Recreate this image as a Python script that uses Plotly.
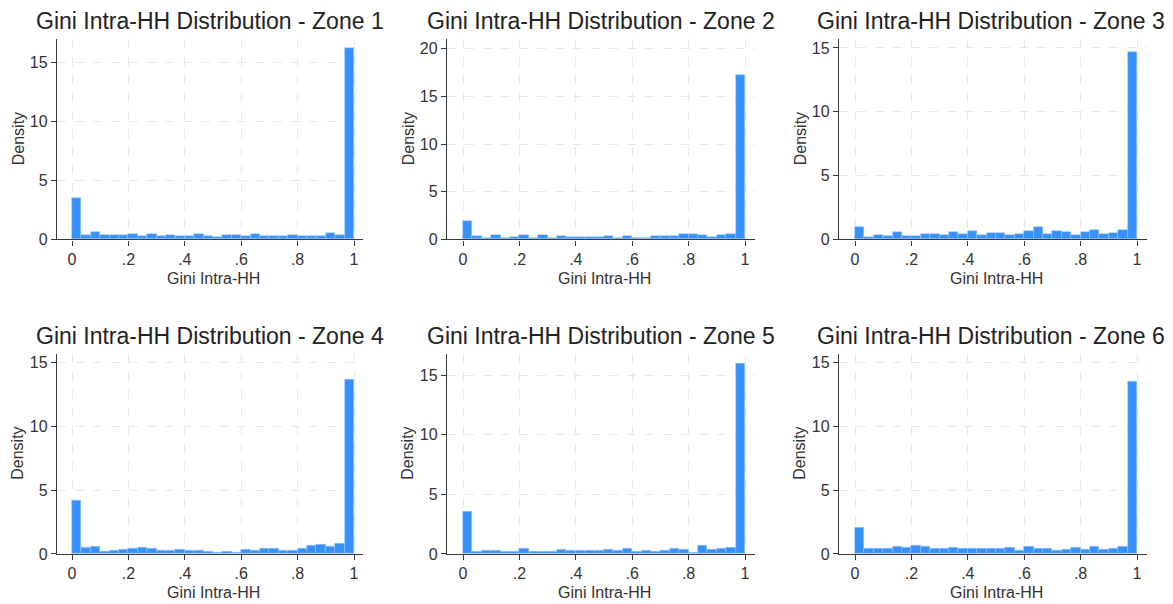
import numpy as np
import plotly.graph_objects as go

# ---- data (density per bin, 30 equal bins on [0, 1]) ----
n_bins = 30
bin_edges = np.linspace(0, 1, n_bins + 1)

zone1 = [3.48, 0.37, 0.60, 0.34, 0.34, 0.34, 0.42, 0.25, 0.42, 0.30, 0.34, 0.25, 0.25, 0.42, 0.30,
         0.22, 0.40, 0.36, 0.30, 0.42, 0.30, 0.25, 0.25, 0.34, 0.28, 0.30, 0.25, 0.50, 0.36, 16.2]
zone2 = [1.90, 0.35, 0.18, 0.45, 0.18, 0.28, 0.45, 0.18, 0.42, 0.12, 0.35, 0.22, 0.25, 0.28, 0.28,
         0.30, 0.17, 0.35, 0.17, 0.17, 0.30, 0.30, 0.35, 0.55, 0.55, 0.45, 0.28, 0.50, 0.58, 17.2]
zone3 = [1.00, 0.22, 0.36, 0.28, 0.54, 0.28, 0.24, 0.43, 0.40, 0.33, 0.58, 0.42, 0.66, 0.34, 0.50,
         0.50, 0.34, 0.38, 0.66, 0.97, 0.45, 0.63, 0.58, 0.37, 0.60, 0.71, 0.45, 0.47, 0.74, 14.7]
zone4 = [4.20, 0.50, 0.58, 0.22, 0.30, 0.36, 0.44, 0.50, 0.44, 0.24, 0.25, 0.36, 0.30, 0.30, 0.17,
         0.14, 0.22, 0.14, 0.36, 0.28, 0.44, 0.38, 0.30, 0.30, 0.38, 0.68, 0.76, 0.60, 0.84, 13.7]
zone5 = [3.55, 0.22, 0.30, 0.27, 0.22, 0.19, 0.41, 0.22, 0.22, 0.22, 0.36, 0.27, 0.30, 0.25, 0.27,
         0.36, 0.25, 0.44, 0.16, 0.25, 0.19, 0.30, 0.44, 0.33, 0.13, 0.67, 0.36, 0.44, 0.55, 16.0]
zone6 = [2.10, 0.44, 0.39, 0.44, 0.57, 0.50, 0.63, 0.55, 0.39, 0.39, 0.50, 0.42, 0.42, 0.39, 0.39,
         0.44, 0.50, 0.26, 0.57, 0.42, 0.39, 0.26, 0.34, 0.47, 0.31, 0.57, 0.34, 0.42, 0.55, 13.5]

zones = [zone1, zone2, zone3, zone4, zone5, zone6]
zone_names = ["Zone 1", "Zone 2", "Zone 3", "Zone 4", "Zone 5", "Zone 6"]
x_tickvals = [0, 0.2, 0.4, 0.6, 0.8, 1]
x_ticktext = ["0", ".2", ".4", ".6", ".8", "1"]
y_ticks = [[0, 5, 10, 15], [0, 5, 10, 15, 20], [0, 5, 10, 15],
           [0, 5, 10, 15], [0, 5, 10, 15], [0, 5, 10, 15]]
y_tops = [17.0, 21.0, 15.7, 15.7, 16.8, 15.7]

# ---- layout geometry (pixels) ----
W, H = 1173, 604
H_EFF = 594  # effective rendered paper height observed
col_px = [(57, 363), (447, 755), (839, 1147)]
row_px = [(39, 239), (353, 553)]
title_x = [34, 425, 815]
x0_px = [72, 463, 855]
x1_px = [354, 745, 1137]

def px(x):
    return x / W

def py(y):
    return 1 - y / H_EFF

BAR_COLOR = "#3891fb"
AX_COLOR = "#3a3a3a"
TXT_COLOR = "#333333"
FONT = "Liberation Sans, Arial, sans-serif"

fig = go.Figure()
centers = (bin_edges[:-1] + bin_edges[1:]) / 2
widths = np.diff(bin_edges)

annotations = []
for i, vals in enumerate(zones):
    r, c = divmod(i, 3)
    idx = "" if i == 0 else str(i + 1)
    xa, ya = "x" + idx, "y" + idx
    fig.add_trace(go.Bar(
        x=centers, y=vals, width=widths,
        marker=dict(color=BAR_COLOR, line=dict(color="rgba(150,195,255,0.9)", width=0.6)),
        xaxis=xa, yaxis=ya, showlegend=False, hoverinfo="x+y",
    ))
    left, right = col_px[c]
    top, bot = row_px[r]
    scale = (x1_px[c] - x0_px[c])
    xr = [(left - x0_px[c]) / scale, (right - x0_px[c]) / scale]
    common = dict(
        showline=True, linecolor=AX_COLOR, linewidth=1.3,
        ticks="outside", ticklen=5, tickcolor=AX_COLOR, tickwidth=1.2,
        showgrid=True, gridcolor="#e8e8e8", griddash="dash", gridwidth=1,
        zeroline=False, tickfont=dict(family=FONT, size=16, color=TXT_COLOR),
        fixedrange=True,
    )
    fig.layout["xaxis" + idx] = dict(
        domain=[px(left), px(right)], anchor=ya, range=xr,
        tickvals=x_tickvals, ticktext=x_ticktext, **common)
    fig.layout["yaxis" + idx] = dict(
        domain=[py(bot), py(top)], anchor=xa, range=[0, y_tops[i]],
        tickvals=y_ticks[i], ticktext=[str(v) for v in y_ticks[i]], **common)

    annotations.append(dict(
        text="Gini Intra-HH Distribution - " + zone_names[i],
        x=px(title_x[c]), y=py(top - 18), xref="paper", yref="paper",
        xanchor="left", yanchor="middle", showarrow=False,
        font=dict(family=FONT, size=23, color="#222222")))
    annotations.append(dict(
        text="Gini Intra-HH", x=px((x0_px[c] + x1_px[c]) / 2), y=py(bot + 39),
        xref="paper", yref="paper", xanchor="center", yanchor="middle",
        showarrow=False, font=dict(family=FONT, size=16, color=TXT_COLOR)))
    annotations.append(dict(
        text="Density", x=px(left - 39), y=py((top + bot) / 2),
        xref="paper", yref="paper", xanchor="center", yanchor="middle",
        textangle=-90, showarrow=False, font=dict(family=FONT, size=16, color=TXT_COLOR)))

fig.update_layout(
    width=W, height=H, margin=dict(l=0, r=0, t=0, b=0),
    paper_bgcolor="white", plot_bgcolor="white",
    bargap=0, annotations=annotations,
    font=dict(family=FONT, color=TXT_COLOR),
)

fig.write_html("out.html", config={"displayModeBar": False},
               post_script="document.body.style.margin='0';document.body.style.overflow='hidden';")
